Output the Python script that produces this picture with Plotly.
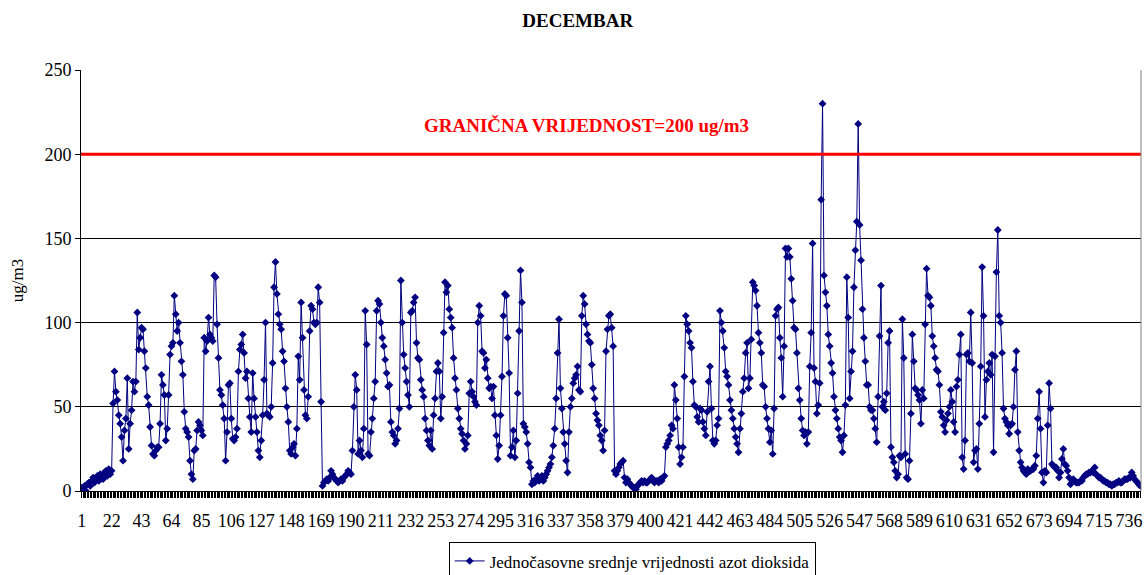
import plotly.graph_objects as go

# Hourly NO2 values (ug/m3), December, by week
week1 = [2,1,3,0,4,5,3,6,8,5,7,9,6,10,8,7,11,12,9,13,10,12,52,71,
         59,54,45,40,32,18,36,43,67,25,40,48,65,59,65,106,84,91,97,96,83,73,56,51,
         38,27,22,21,24,26,26,40,69,63,57,30,37,57,81,86,88,116,105,95,100,88,77,69,
         47,37,35,32,18,10,7,24,25,36,41,39,36,33,91,83,89,103,93,91,89,128,127,99,
         79,60,57,51,43,18,35,63,64,43,31,30,32,37,71,84,87,93,82,67,71,55,44,35,
         70,55,44,35,24,20,30,45,66,100,46,45,44,50,76,121,136,117,105,99,96,83,77,61,
         50,41,24,22,26,28,21,37,80,66,112,91,60,45,43,56,95,110,108,100,99,100,121,112]
week2 = [53,3,5,6,7,6,8,12,10,8,7,6,5,6,7,6,8,9,10,12,11,10,24,50,
         69,60,22,30,24,20,37,107,87,22,21,35,43,55,65,107,113,111,100,91,86,78,70,62,
         63,41,35,33,28,30,37,49,125,100,81,73,65,57,50,106,107,112,115,88,79,78,66,60,
         56,43,36,30,27,36,25,45,55,71,76,71,43,56,94,124,118,122,108,103,97,79,67,60,
         49,43,37,34,30,25,28,33,58,65,59,56,53,51,100,110,104,83,82,73,78,67,61,62,
         55,62,45,33,19,27,45,68,104,117,116,91,70,21,26,36,20,30,58,95,131,112,40,38,
         35,28,17,14,4,6,5,7,9,6,7,9,6,8,10,12,14,16,20,27,37,55,82,102]
week3 = [61,49,35,28,18,11,35,50,55,64,67,69,74,60,59,104,116,111,99,93,89,88,75,61,
         55,46,42,39,33,30,24,36,83,96,104,105,97,86,12,10,12,14,16,17,18,8,5,7,
         5,4,3,2,2,1,3,4,5,6,5,6,5,5,6,7,8,6,5,6,6,5,7,6,
         8,9,26,28,30,33,39,37,63,54,43,26,16,20,26,68,104,99,95,88,85,65,51,50,
         44,41,49,48,41,37,33,47,65,74,49,30,28,30,39,43,107,100,95,85,71,68,63,54,
         48,43,37,32,28,23,37,46,59,67,82,88,61,67,90,124,122,119,110,94,88,82,63,62,
         50,43,37,29,36,22,49,104,108,109,91,79,56,86,144,139,144,139,126,113,97,96,82,61]
week4 = [54,43,36,33,35,28,35,74,94,147,73,65,46,51,64,173,230,128,118,110,93,86,76,70,
         56,48,43,37,32,30,23,33,51,127,103,55,71,83,121,143,160,218,158,137,108,91,77,63,
         63,50,48,48,43,37,29,56,92,122,50,53,48,58,88,95,26,20,17,12,8,10,21,20,
         102,79,22,8,7,18,46,93,77,61,60,57,54,40,60,55,99,132,116,115,110,92,86,79,
         72,71,63,47,44,39,35,42,46,50,60,53,41,35,62,66,81,93,20,13,30,81,82,77,
         106,76,17,24,25,13,40,74,133,104,44,66,71,76,69,81,23,80,130,155,104,100,82,49,
         43,41,39,34,39,40,50,72,83,35,24,17,14,12,11,10,13,12,12,13,13,15,21,43]
week5 = [59,37,11,5,12,11,39,64,49,16,15,14,14,12,8,11,19,25,16,15,12,8,4,5,
         7,6,5,5,5,6,6,8,9,10,10,11,11,12,11,14,10,9,8,8,7,6,6,5,
         5,4,4,3,4,4,5,5,6,5,5,6,7,7,7,8,8,11,9,7,6,5,4,3]

values = week1 + week2 + week3 + week4 + week5
hours = list(range(1, len(values) + 1))
tick_labels = list(range(1, len(values) + 1, 21))
limit_value = 200
y_ticks = [0, 50, 100, 150, 200, 250]

SERIF = "Liberation Serif, Times New Roman, serif"

fig = go.Figure()
fig.add_trace(go.Scatter(
    x=hours, y=values, mode="lines+markers",
    name="Jednočasovne srednje vrijednosti azot dioksida",
    line=dict(color="#000080", width=1),
    marker=dict(symbol="diamond", size=6, color="#000080"),
))

fig.add_shape(type="line", xref="paper", x0=0, x1=1, yref="y", y0=limit_value, y1=limit_value,
              line=dict(color="#FF0000", width=3), layer="above")
fig.add_shape(type="line", xref="paper", x0=1, x1=1, yref="paper", y0=0, y1=1,
              line=dict(color="#808080", width=1))

fig.add_annotation(text="GRANIČNA VRIJEDNOST=200 ug/m3", xref="paper", x=0.477, yref="y", y=217,
                   showarrow=False, font=dict(family=SERIF, size=19, color="#FF0000", weight="bold"))

fig.update_layout(
    width=1144, height=575,
    margin=dict(l=81, r=3, t=70, b=84, autoexpand=False),
    paper_bgcolor="white", plot_bgcolor="white",
    title=dict(text="DECEMBAR", x=0.505, xanchor="center", y=0.965, yanchor="middle",
               font=dict(family=SERIF, size=19, color="black", weight="bold")),
    font=dict(family=SERIF, size=17, color="black"),
    showlegend=True,
    legend=dict(orientation="h", x=0.52, xanchor="center", y=-0.122, yanchor="top",
                bordercolor="black", borderwidth=1, bgcolor="white",
                font=dict(family=SERIF, size=17, color="black")),
    xaxis=dict(range=[0.5, len(values) + 0.5], tickmode="array", tickvals=tick_labels,
               ticktext=[str(t) for t in tick_labels], showgrid=False, zeroline=False,
               showline=True, linecolor="black", linewidth=1, automargin=False,
               ticks="outside", ticklen=6, tickcolor="black", tickwidth=1,
               ticklabelstandoff=7, tickangle=0,
               minor=dict(dtick=1, ticks="outside", ticklen=6, tickcolor="black", tickwidth=1, showgrid=False),
               tickfont=dict(family=SERIF, size=18)),
    yaxis=dict(range=[0, 250], tickvals=y_ticks, showgrid=True, gridcolor="black", gridwidth=1,
               zeroline=False, showline=True, linecolor="black", linewidth=1, automargin=False,
               ticks="outside", ticklen=5, tickcolor="black",
               title=dict(text="ug/m3", font=dict(family=SERIF, size=17), standoff=16),
               tickfont=dict(family=SERIF, size=18)),
)

# Remove the default page margin so the 1144x575 figure fills the window exactly.
fig.write_html("out.html", config={"displayModeBar": False},
               post_script="document.body.style.margin='0';document.body.style.overflow='hidden';")
